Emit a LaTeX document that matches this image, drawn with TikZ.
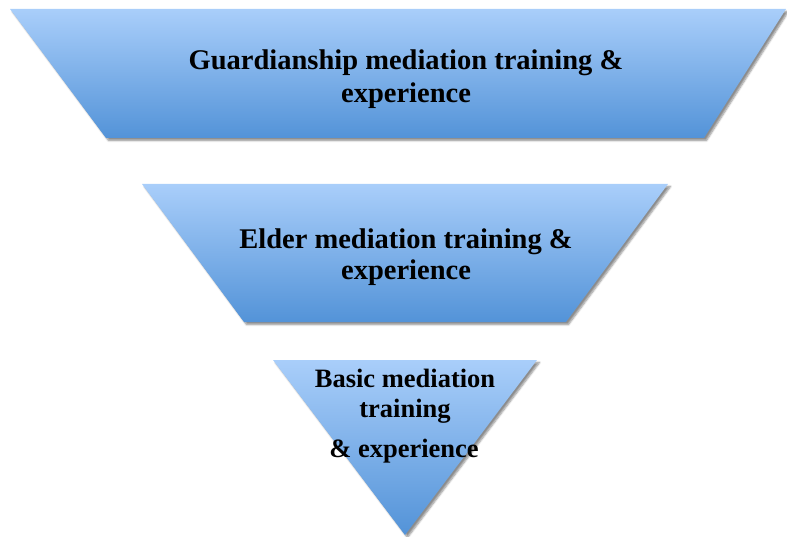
\documentclass[tikz,border=0pt]{standalone}
\usepackage{fontspec}
\setmainfont{Liberation Serif}
\usetikzlibrary{shadows.blur}
\definecolor{topblue}{HTML}{A9CEFA}
\definecolor{botblue}{HTML}{5393D8}
\tikzset{
  layer/.style={top color=topblue, bottom color=botblue, draw=none,
    blur shadow={shadow xshift=2.5pt, shadow yshift=-2.5pt, shadow blur steps=6, shadow opacity=45}},
  lbl/.style={font=\bfseries\fontsize{28.5}{33}\selectfont, align=center, text=black, inner sep=0pt},
  small/.style={font=\bfseries\fontsize{26.5}{30}\selectfont}
}
\begin{document}
\begin{tikzpicture}[x=1pt,y=-1pt]
\useasboundingbox (0,0) rectangle (787,537);
\path[layer] (10,9) -- (786,9) -- (704,138) -- (106,138) -- cycle;
\path[layer] (142,184) -- (668,184) -- (566,322) -- (244,322) -- cycle;
\path[layer] (273,360) -- (537,360) -- (405,535) -- cycle;
\node[lbl] (guard) at (406,79) {Guardianship mediation training \&\\experience};
\node[lbl, font=\bfseries\fontsize{28.5}{31}\selectfont] (elder) at (406,257) {Elder mediation training \&\\experience};
\node[lbl, small] (basic1) at (405,396) {Basic mediation\\training};
\node[lbl, small] (basic2) at (404,451) {\& experience};
\end{tikzpicture}
\end{document}
